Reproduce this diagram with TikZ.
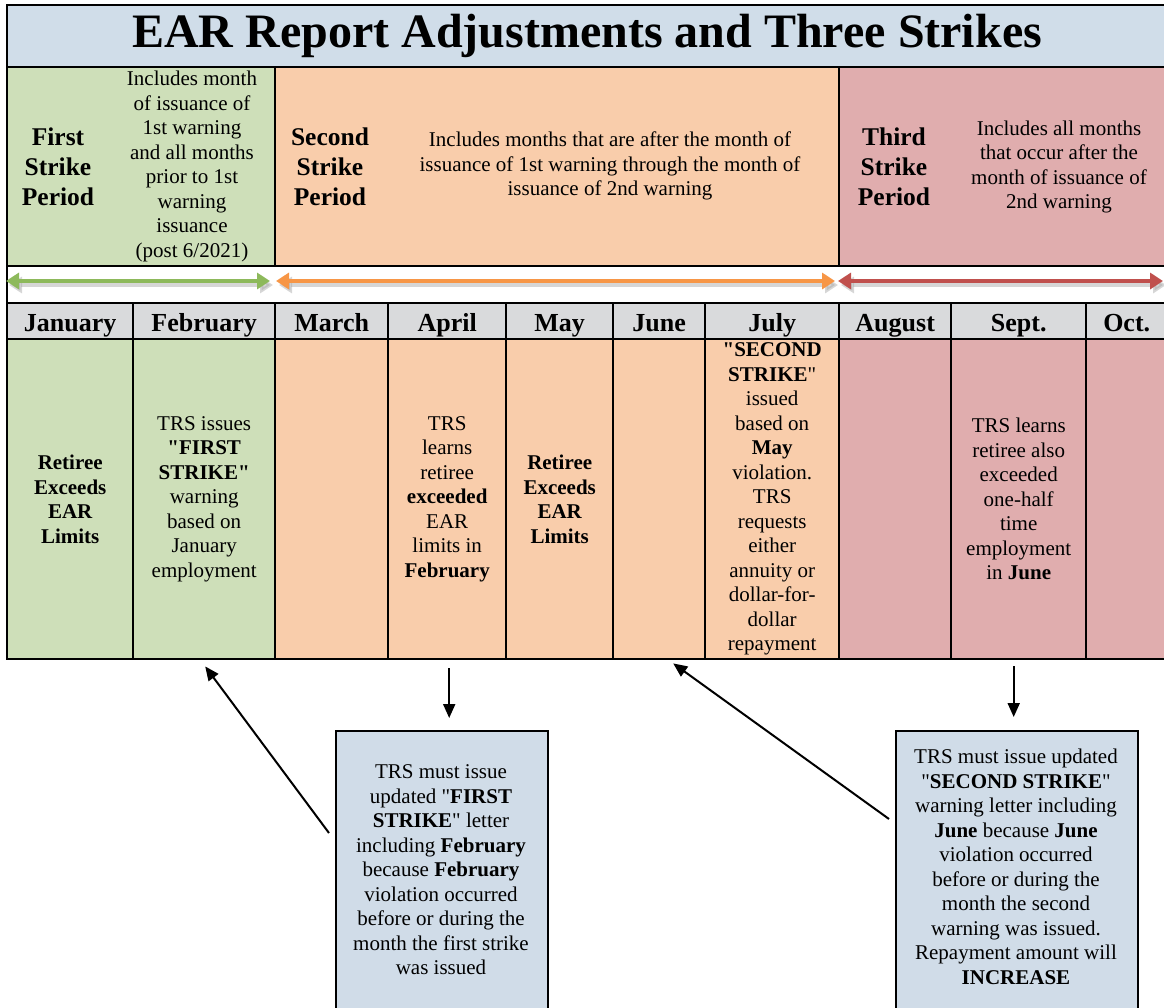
\documentclass[tikz,border=0pt]{standalone}
\usepackage{fontspec}
\setmainfont{Liberation Serif}[Ligatures=TeXOff]
\usetikzlibrary{arrows.meta,calc}
\newcommand{\dqt}{\symbol{34}}
\definecolor{titleblue}{HTML}{D0DDE9}
\definecolor{boxblue}{HTML}{D0DCE8}
\definecolor{cellgreen}{HTML}{CEDFB9}
\definecolor{cellorange}{HTML}{F9CDAB}
\definecolor{cellpink}{HTML}{E0ADAE}
\definecolor{headgray}{HTML}{D9DADC}
\definecolor{arrgreen}{HTML}{8DB95B}
\definecolor{arrorange}{HTML}{F79646}
\definecolor{arrred}{HTML}{C0504D}
\begin{document}
\begin{tikzpicture}[x=1pt,y=-1pt,
  cell/.style={draw=black, line width=2.4pt, inner sep=0pt, anchor=north west, align=center},
  bodytxt/.style={font=\fontsize{21}{24.5}\selectfont},
  headtxt/.style={font=\fontsize{26}{30}\selectfont\bfseries, text height=25pt, text depth=5pt},
  pertxt/.style={font=\fontsize{25.5}{30}\selectfont\bfseries, align=center, inner sep=0pt},
  desctxt/.style={font=\fontsize{21}{24.5}\selectfont, align=center, inner sep=0pt},
  conn/.style={line width=2pt, -{Triangle[length=14pt,width=12pt]}},
  span/.style={line width=4.5pt, {Triangle[length=13pt,width=16pt]}-{Triangle[length=13pt,width=16pt]}},
  spanshadow/.style={line width=4.5pt, draw=black!35, opacity=0.45, {Triangle[length=13pt,width=16pt]}-{Triangle[length=13pt,width=16pt]}}
]
\useasboundingbox (0,0) rectangle (1164,1007);
\fill[white] (0,0) rectangle (1164,1007);

% title
\node[cell, fill=titleblue, minimum width=1160, minimum height=62, font=\fontsize{48}{56}\selectfont\bfseries] (title) at (6,4) {EAR Report Adjustments and Three Strikes};

% period row
\node[cell, fill=cellgreen, minimum width=268, minimum height=199] (per1) at (6,66) {};
\node[cell, fill=cellorange, minimum width=564, minimum height=199] (per2) at (274,66) {};
\node[cell, fill=cellpink, minimum width=328, minimum height=199] (per3) at (838,66) {};

\node[pertxt] (p1h) at (58,167) {First\\Strike\\Period};
\node[desctxt] (p1d) at (192,166.5) {Includes month\\of issuance of\\1st warning\\and all months\\prior to 1st\\warning\\issuance\\(post 6/2021)};
\node[pertxt] (p2h) at (330,167) {Second\\Strike\\Period};
\node[desctxt] (p2d) at (610,166) {Includes months that are after the month of\\issuance of 1st warning through the month of\\issuance of 2nd warning};
\node[pertxt] (p3h) at (894,167) {Third\\Strike\\Period};
\node[desctxt] (p3d) at (1059,167) {Includes all months\\that occur after the\\month of issuance of\\2nd warning};

% gap row
\node[cell, fill=white, minimum width=1160, minimum height=37] (gap) at (6,265) {};
\coordinate (g0) at (6,281);
\coordinate (g1) at (270,281);
\coordinate (g2) at (276,281);
\coordinate (g3) at (835,281);
\coordinate (g4) at (838,281);
\coordinate (g5) at (1163,281);
\draw[spanshadow] ($(g0)+(3,4)$) -- ($(g1)+(3,4)$);
\draw[spanshadow] ($(g2)+(3,4)$) -- ($(g3)+(3,4)$);
\draw[spanshadow] ($(g4)+(3,4)$) -- ($(g5)+(3,4)$);
\draw[span, arrgreen] (g0) -- (g1);
\draw[span, arrorange] (g2) -- (g3);
\draw[span, arrred] (g4) -- (g5);

% month headers
\node[cell, fill=headgray, minimum width=126, minimum height=36, headtxt] (hjan) at (6,302) {January};
\node[cell, fill=headgray, minimum width=142, minimum height=36, headtxt] (hfeb) at (132,302) {February};
\node[cell, fill=headgray, minimum width=113, minimum height=36, headtxt] (hmar) at (274,302) {March};
\node[cell, fill=headgray, minimum width=118, minimum height=36, headtxt] (hapr) at (387,302) {April};
\node[cell, fill=headgray, minimum width=107, minimum height=36, headtxt] (hmay) at (505,302) {May};
\node[cell, fill=headgray, minimum width=92, minimum height=36, headtxt] (hjun) at (612,302) {June};
\node[cell, fill=headgray, minimum width=134, minimum height=36, headtxt] (hjul) at (704,302) {July};
\node[cell, fill=headgray, minimum width=112, minimum height=36, headtxt] (haug) at (838,302) {August};
\node[cell, fill=headgray, minimum width=135, minimum height=36, headtxt] (hsep) at (950,302) {Sept.};
\node[cell, fill=headgray, minimum width=81, minimum height=36, headtxt] (hoct) at (1085,302) {Oct.};

% body cells
\node[cell, fill=cellgreen, minimum width=126, minimum height=320, bodytxt] (janbody) at (6,338) {\bfseries Retiree\\\bfseries Exceeds\\\bfseries EAR\\\bfseries Limits};
\node[cell, fill=cellgreen, minimum width=142, minimum height=320, bodytxt] (febbody) at (132,338) {TRS issues\\\textbf{\dqt FIRST}\\\textbf{STRIKE\dqt}\\warning\\based on\\January\\employment};
\node[cell, fill=cellorange, minimum width=113, minimum height=320, bodytxt] (marbody) at (274,338) {};
\node[cell, fill=cellorange, minimum width=118, minimum height=320, bodytxt] (aprbody) at (387,338) {TRS\\learns\\retiree\\\textbf{exceeded}\\EAR\\limits in\\\textbf{February}};
\node[cell, fill=cellorange, minimum width=107, minimum height=320, bodytxt] (maybody) at (505,338) {\bfseries Retiree\\\bfseries Exceeds\\\bfseries EAR\\\bfseries Limits};
\node[cell, fill=cellorange, minimum width=92, minimum height=320, bodytxt] (junbody) at (612,338) {};
\node[cell, fill=cellorange, minimum width=134, minimum height=320, bodytxt] (julbody) at (704,338) {\textbf{\dqt SECOND}\\\textbf{STRIKE}\dqt\\issued\\based on\\\textbf{May}\\violation.\\TRS\\requests\\either\\annuity or\\dollar-for-\\dollar\\repayment};
\node[cell, fill=cellpink, minimum width=112, minimum height=320, bodytxt] (augbody) at (838,338) {};
\node[cell, fill=cellpink, minimum width=135, minimum height=320, bodytxt] (sepbody) at (950,338) {TRS learns\\retiree also\\exceeded\\one-half\\time\\employment\\in \textbf{June}};
\node[cell, fill=cellpink, minimum width=81, minimum height=320, bodytxt] (octbody) at (1085,338) {};

% callout boxes
\node[cell, fill=boxblue, minimum width=212, minimum height=290] (box1) at (335,730) {};
\node[desctxt] (box1t) at (441,870) {TRS must issue\\updated \dqt\textbf{FIRST}\\\textbf{STRIKE}\dqt{} letter\\including \textbf{February}\\because \textbf{February}\\violation occurred\\before or during the\\month the first strike\\was issued};
\node[cell, fill=boxblue, minimum width=242, minimum height=290] (box2) at (895,730) {};
\node[desctxt] (box2t) at (1016,867) {TRS must issue updated\\\dqt\textbf{SECOND STRIKE}\dqt\\warning letter including\\\textbf{June} because \textbf{June}\\violation occurred\\before or during the\\month the second\\warning was issued.\\Repayment amount will\\\textbf{INCREASE}};

% connectors
\coordinate (t1) at ($(box1.north west)+(-6,103)$);
\draw[conn] (t1) -- ($(febbody.south)+(1,6)$);
\draw[conn] ($(aprbody.south)+(2,8)$) -- ($(aprbody.south |- box1.north)+(2,-12)$);
\coordinate (t3) at ($(box2.north west)+(-6,89)$);
\draw[conn] (t3) -- ($(junbody.south)+(14,3)$);
\draw[conn] ($(sepbody.south)+(-5,6)$) -- ($(sepbody.south |- box2.north)+(-5,-13)$);
\end{tikzpicture}
\end{document}
